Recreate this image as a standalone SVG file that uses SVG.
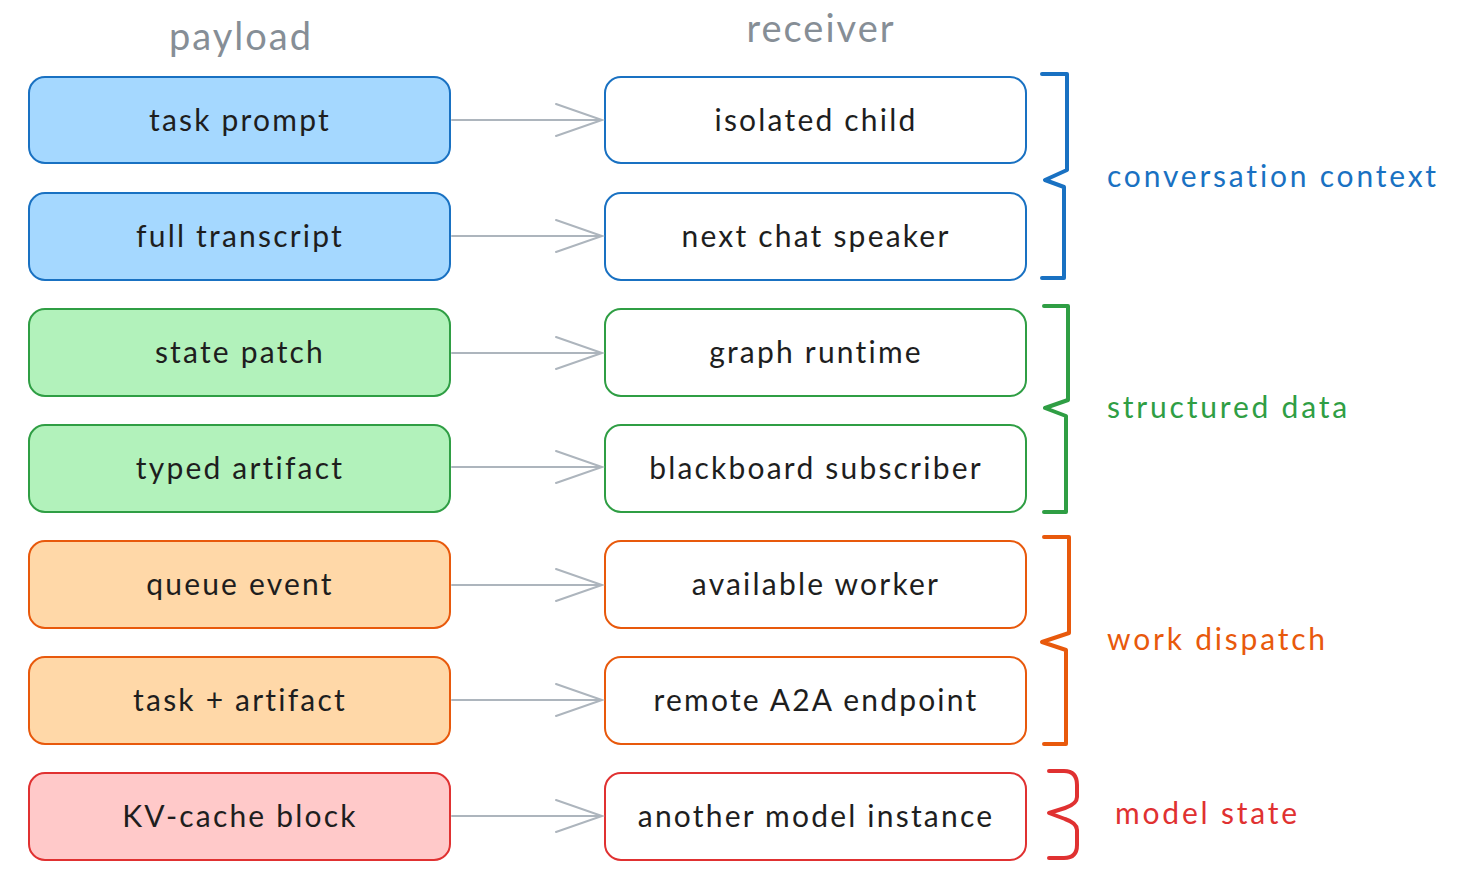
<svg xmlns="http://www.w3.org/2000/svg" width="1468" height="892" viewBox="0 0 1468 892">
<style>
.t{font-family:Lato,"Noto Sans",sans-serif;font-size:30px;fill:#1e1e1e;text-anchor:middle;dominant-baseline:central;letter-spacing:2.2px}
.h{font-family:Lato,"Noto Sans",sans-serif;font-size:38px;fill:#868e96;text-anchor:middle;letter-spacing:2px}
.g{font-family:Lato,"Noto Sans",sans-serif;font-size:30px;dominant-baseline:central;letter-spacing:2.8px}
.box{stroke-width:2}
.b{stroke:#1971c2}.gr{stroke:#2f9e44}.o{stroke:#e8590c}.r{stroke:#e03131}
.br{fill:none;stroke-width:4;stroke-linecap:round;stroke-linejoin:round}
.c{fill:none;stroke:#adb5bd;stroke-width:2;stroke-linecap:round}
</style>
<rect width="1468" height="892" fill="#ffffff"/>
<text class="h" x="241" y="50">payload</text>
<text class="h" x="821" y="42">receiver</text>

<g id="p1"><rect class="box b" x="29" y="77" width="421" height="86" rx="16" fill="#a5d8ff"/><text class="t" x="240" y="119">task prompt</text></g>
<g id="p2"><rect class="box b" x="29" y="193" width="421" height="87" rx="16" fill="#a5d8ff"/><text class="t" x="240" y="235">full transcript</text></g>
<g id="p3"><rect class="box gr" x="29" y="309" width="421" height="87" rx="16" fill="#b2f2bb"/><text class="t" x="240" y="351">state patch</text></g>
<g id="p4"><rect class="box gr" x="29" y="425" width="421" height="87" rx="16" fill="#b2f2bb"/><text class="t" x="240" y="467">typed artifact</text></g>
<g id="p5"><rect class="box o" x="29" y="541" width="421" height="87" rx="16" fill="#ffd8a8"/><text class="t" x="240" y="583">queue event</text></g>
<g id="p6"><rect class="box o" x="29" y="657" width="421" height="87" rx="16" fill="#ffd8a8"/><text class="t" x="240" y="699">task + artifact</text></g>
<g id="p7"><rect class="box r" x="29" y="773" width="421" height="87" rx="16" fill="#ffc9c9"/><text class="t" x="240" y="815">KV-cache block</text></g>

<g id="r1"><rect class="box b" x="605" y="77" width="421" height="86" rx="16" fill="#ffffff"/><text class="t" x="816" y="119">isolated child</text></g>
<g id="r2"><rect class="box b" x="605" y="193" width="421" height="87" rx="16" fill="#ffffff"/><text class="t" x="816" y="235">next chat speaker</text></g>
<g id="r3"><rect class="box gr" x="605" y="309" width="421" height="87" rx="16" fill="#ffffff"/><text class="t" x="816" y="351">graph runtime</text></g>
<g id="r4"><rect class="box gr" x="605" y="425" width="421" height="87" rx="16" fill="#ffffff"/><text class="t" x="816" y="467">blackboard subscriber</text></g>
<g id="r5"><rect class="box o" x="605" y="541" width="421" height="87" rx="16" fill="#ffffff"/><text class="t" x="816" y="583">available worker</text></g>
<g id="r6"><rect class="box o" x="605" y="657" width="421" height="87" rx="16" fill="#ffffff"/><text class="t" x="816" y="699">remote A2A endpoint</text></g>
<g id="r7"><rect class="box r" x="605" y="773" width="421" height="87" rx="16" fill="#ffffff"/><text class="t" x="816" y="815">another model instance</text></g>

<g id="connectors">
<path class="c" d="M452 120 H602 M556 104 L602 120 L556 136"/>
<path class="c" d="M452 236 H602 M556 220 L602 236 L556 252"/>
<path class="c" d="M452 353 H602 M556 337 L602 353 L556 369"/>
<path class="c" d="M452 467 H602 M556 451 L602 467 L556 483"/>
<path class="c" d="M452 585 H602 M556 569 L602 585 L556 601"/>
<path class="c" d="M452 700 H602 M556 684 L602 700 L556 716"/>
<path class="c" d="M452 816 H602 M556 800 L602 816 L556 832"/>
</g>

<g id="brace1"><path class="br" stroke="#1971c2" d="M1042 74 H1067 V170 L1045 180 L1064 187 V278 H1042"/><text class="g" x="1107" y="175" fill="#1971c2">conversation context</text></g>
<g id="brace2"><path class="br" stroke="#2f9e44" d="M1044 306 H1068 V400 L1045 408 L1066 416 V512 H1044"/><text class="g" x="1107" y="406" fill="#2f9e44">structured data</text></g>
<g id="brace3"><path class="br" stroke="#e8590c" d="M1044 537 H1069 V633 L1042 642 L1066 650 V744 H1044"/><text class="g" x="1107" y="638" fill="#e8590c">work dispatch</text></g>
<g id="brace4"><path class="br" stroke="#e03131" d="M1049 771 H1064 Q1077 771 1077 785 V797 Q1077 804 1065 808 L1049 813 L1065 819 Q1077 823 1077 830 V845 Q1077 858 1064 858 H1049"/><text class="g" x="1115" y="812" fill="#e03131">model state</text></g>
</svg>
